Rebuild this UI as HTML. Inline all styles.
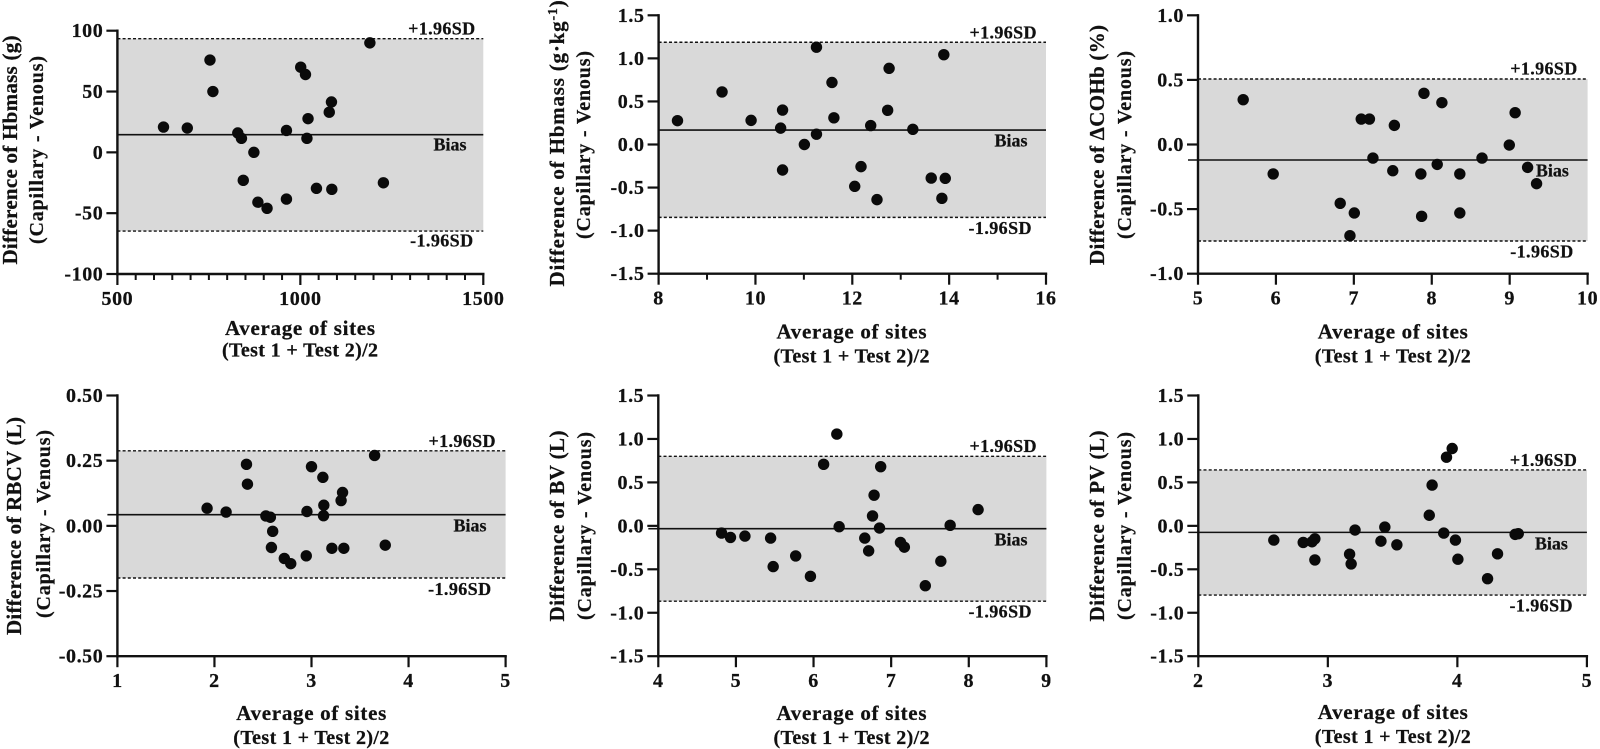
<!DOCTYPE html>
<html lang="en">
<head>
<meta charset="utf-8">
<title>Bland-Altman plots</title>
<style>
html,body{margin:0;padding:0;background:#fff;width:1600px;height:749px;overflow:hidden}
svg{display:block}
text{font-family:"Liberation Serif","DejaVu Serif",serif;font-weight:700;fill:#111;stroke:#111;stroke-width:0.25px}
</style>
</head>
<body>
<svg id="figure" xmlns="http://www.w3.org/2000/svg" width="1600" height="749" viewBox="0 0 1600 749"></svg>
<script>
// ---- Hbmass (g)
const hbmassGX = [626,691,753,761,829,839,873,844,884,909,962,962,1001,1014,1021,1018,1044,1079,1085,1086,1190,1227];
const hbmassGY = [20.8,20,75.9,50,15.9,11.5,0,-23,-41,-46,18,-38.4,70,64,27.7,11.5,-29.6,33,41.4,-30.4,90,-25];
const hbmassGLimits = [93.4,14.5,-64.7];
const hbmassGXTicks = ["500","1000","1500"];
const hbmassGYTicks = ["100","50","0","-50","-100"];
// ---- Hbmass (g/kg)
const hbmassKgX = [8.39,9.31,9.91,10.56,10.52,10.56,11.01,11.26,11.26,11.58,11.62,12.18,12.05,12.38,12.51,12.73,12.76,13.25,13.63,13.92,13.85,13.89];
const hbmassKgY = [0.277,0.61,0.28,0.40,0.19,-0.296,0,0.12,1.13,0.72,0.31,-0.257,-0.486,0.22,-0.64,0.397,0.884,0.176,-0.39,-0.393,-0.625,1.043];
const hbmassKgLimits = [1.187,0.168,-0.846];
const hbmassKgXTicks = ["8","10","12","14","16"];
const hbmassKgYTicks = ["1.5","1.0","0.5","0.0","-0.5","-1.0","-1.5"];
// ---- delta COHb (%)
const cohbX = [5.58,5.965,6.825,7.006,6.95,7.095,7.2,7.245,7.52,7.5,7.86,7.87,7.9,8.07,8.13,8.36,8.36,8.645,8.995,9.07,9.23,9.345];
const cohbY = [0.347,-0.228,-0.455,-0.53,-0.706,0.197,0.197,-0.105,0.148,-0.203,-0.228,-0.556,0.396,-0.154,0.324,-0.228,-0.53,-0.105,-0.004,0.246,-0.177,-0.303];
const cohbLimits = [0.507,-0.12,-0.747];
const cohbXTicks = ["5","6","7","8","9","10"];
const cohbYTicks = ["1.0","0.5","0.0","-0.5","-1.0"];
// ---- RBCV (L)
const rbcvX = [1.924,2.12,2.33,2.34,2.53,2.576,2.60,2.587,2.72,2.786,2.946,2.953,3.0,3.117,3.127,3.124,3.21,3.32,3.305,3.333,3.65,3.76];
const rbcvY = [0.0676,0.053,0.236,0.16,0.038,0.033,-0.021,-0.083,-0.125,-0.145,-0.115,0.055,0.227,0.186,0.079,0.039,-0.086,0.128,0.097,-0.086,0.27,-0.074];
const rbcvLimits = [0.288,0.043,-0.2];
const rbcvXTicks = ["1","2","3","4","5"];
const rbcvYTicks = ["0.50","0.25","0.00","-0.25","-0.50"];
// ---- BV (L)
const bvX = [4.815,4.93,5.116,5.447,5.48,5.77,5.96,6.13,6.30,6.33,6.66,6.71,6.76,6.78,6.85,6.865,7.12,7.17,7.44,7.64,7.76,8.12];
const bvY = [-0.083,-0.133,-0.118,-0.141,-0.469,-0.346,-0.581,0.708,1.056,-0.01,-0.141,-0.288,0.114,0.353,-0.025,0.681,-0.191,-0.245,-0.689,-0.407,0.006,0.187];
const bvLimits = [0.80,-0.033,-0.867];
const bvXTicks = ["4","5","6","7","8","9"];
const bvYTicks = ["1.5","1.0","0.5","0.0","-0.5","-1.0","-1.5"];
// ---- PV (L)
const pvX = [2.583,2.81,2.878,2.90,2.90,3.168,3.18,3.21,3.41,3.44,3.533,3.783,3.805,3.895,3.916,3.96,3.985,4.004,4.233,4.31,4.446,4.47];
const pvY = [-0.164,-0.191,-0.183,-0.149,-0.392,-0.326,-0.438,-0.048,-0.176,-0.014,-0.218,0.122,0.469,-0.083,0.79,0.89,-0.164,-0.384,-0.608,-0.322,-0.098,-0.09];
const pvLimits = [0.643,-0.075,-0.797];
const pvXTicks = ["2","3","4","5"];
const pvYTicks = ["1.5","1.0","0.5","0.0","-0.5","-1.0","-1.5"];

const SVG_NS = "http://www.w3.org/2000/svg";
const figure = document.getElementById("figure");

const panels = [
 {id:"hbmass-g", xs:hbmassGX, ys:hbmassGY, lim:hbmassGLimits, xt:hbmassGXTicks, yt:hbmassGYTicks, minor:10,
  box:[117.4,483.3,30.7,274], title:"Difference of Hbmass (g)", titleLen:229,
  ty:[17,43,150,150], xc:300, xb:[335,356.5], plus:[441.6,34.3], minus:[441.6,246.7], bias:[450,150.5], ext:0},
 {id:"hbmass-kg", xs:hbmassKgX, ys:hbmassKgY, lim:hbmassKgLimits, xt:hbmassKgXTicks, yt:hbmassKgYTicks, minor:2,
  box:[658.6,1046,15.3,273.7], title:"Difference of Hbmass (g·kg", sup:"-1", tail:")", titleLen:0,
  ty:[564,590,143,145], xc:851.5, xb:[338.5,362.5], plus:[1003,38.3], minus:[1000,234], bias:[1011,146.7], ext:0},
 {id:"cohb", xs:cohbX, ys:cohbY, lim:cohbLimits, xt:cohbXTicks, yt:cohbYTicks, minor:1,
  box:[1198,1587.6,15.3,273.7], title:"Difference of ΔCOHb (%)", titleLen:240,
  ty:[1104,1131,145,145], xc:1392.8, xb:[338.5,362.5], plus:[1543.8,74.3], minus:[1541.7,257.3], bias:[1552.4,176.7], ext:10},
 {id:"rbcv", xs:rbcvX, ys:rbcvY, lim:rbcvLimits, xt:rbcvXTicks, yt:rbcvYTicks, minor:1,
  box:[117.4,505.6,395.5,656.2], title:"Difference of RBCV (L)", titleLen:218,
  ty:[21,50,526,524], xc:311.3, xb:[720,744], plus:[462,447], minus:[459.6,594.8], bias:[470,531.7], ext:10},
 {id:"bv", xs:bvX, ys:bvY, lim:bvLimits, xt:bvXTicks, yt:bvYTicks, minor:1,
  box:[658.3,1046.4,395.5,656.2], title:"Difference of BV (L)", titleLen:191,
  ty:[564,591,526,526], xc:851.5, xb:[720,744], plus:[1003,452], minus:[1000,617.7], bias:[1011,545.5], ext:10},
 {id:"pv", xs:pvX, ys:pvY, lim:pvLimits, xt:pvXTicks, yt:pvYTicks, minor:1,
  box:[1198.3,1586.9,395.5,656.2], title:"Difference of PV (L)", titleLen:191,
  ty:[1104,1131,526,526], xc:1392.8, xb:[719,743], plus:[1543.4,466], minus:[1541,611.6], bias:[1551.4,549.5], ext:10}
];

function make(tag, attrs, parent, content) {
  const el = document.createElementNS(SVG_NS, tag);
  for (const k in attrs) el.setAttribute(k, attrs[k]);
  if (content !== undefined) el.textContent = content;
  parent.appendChild(el);
  return el;
}

panels.forEach(function (p) {
  const L = p.box[0], R = p.box[1], T = p.box[2], B = p.box[3];
  const xMin = parseFloat(p.xt[0]), xMax = parseFloat(p.xt[p.xt.length - 1]);
  const yMax = parseFloat(p.yt[0]), yMin = parseFloat(p.yt[p.yt.length - 1]);
  const sx = function (v) { return L + (v - xMin) / (xMax - xMin) * (R - L); };
  const sy = function (v) { return T + (yMax - v) / (yMax - yMin) * (B - T); };

  const g = make("g", {}, figure);
  
  

  const upper = p.lim[0], mid = p.lim[1], lower = p.lim[2];

  const band = make("rect", {x:L, y:sy(upper), width:R - L, height:sy(lower) - sy(upper), fill:"#d9d9d9"}, g);
  
  

  const upperLine = make("line", {x1:L, x2:R, y1:sy(upper), y2:sy(upper), stroke:"#111", "stroke-width":1.4, "stroke-dasharray":"3 2.2"}, g);
  
  

  const lowerLine = make("line", {x1:L, x2:R, y1:sy(lower), y2:sy(lower), stroke:"#111", "stroke-width":1.4, "stroke-dasharray":"3 2.2"}, g);
  
  

  const biasLine = make("line", {x1:L - p.ext, x2:R, y1:sy(mid), y2:sy(mid), stroke:"#111", "stroke-width":1.6}, g);
  
  

  const yAxis = make("line", {x1:L, x2:L, y1:T - 1.2, y2:B + 1.2, stroke:"#111", "stroke-width":2.4}, g);
  
  

  const xAxis = make("line", {x1:L - 1.2, x2:R + 1.2, y1:B, y2:B, stroke:"#111", "stroke-width":2.4}, g);
  
  

  p.yt.forEach(function (label) {
    const v = parseFloat(label);
    const tick = make("line", {x1:L - 11, x2:L, y1:sy(v), y2:sy(v), stroke:"#111", "stroke-width":2.2}, g);
    
    
    const t = make("text", {x:L - 14, y:sy(v) + 6.5, "text-anchor":"end", "font-size":20, "letter-spacing":0.6}, g, label);
    
    
  });

  p.xt.forEach(function (label, i) {
    const v = parseFloat(label);
    const tick = make("line", {x1:sx(v), x2:sx(v), y1:B, y2:B + 11, stroke:"#111", "stroke-width":2.2}, g);
    
    
    const t = make("text", {x:sx(v), y:B + 31, "text-anchor":"middle", "font-size":20, "letter-spacing":0.6}, g, label);
    
    
    if (i < p.xt.length - 1 && p.minor > 1) {
      const next = parseFloat(p.xt[i + 1]);
      for (let m = 1; m < p.minor; m++) {
        const mv = v + (next - v) * m / p.minor;
        const minorTick = make("line", {x1:sx(mv), x2:sx(mv), y1:B, y2:B + 6, stroke:"#111", "stroke-width":2}, g);
        
        
      }
    }
  });

  p.xs.forEach(function (xv, i) {
    const dot = make("circle", {cx:sx(xv), cy:sy(p.ys[i]), r:5.7, fill:"#0a0a0a"}, g);
    
    
  });

  const plusLabel = make("text", {x:p.plus[0], y:p.plus[1], "text-anchor":"middle", "font-size":18, textLength:67, lengthAdjust:"spacing"}, g, "+1.96SD");
  
  

  const minusLabel = make("text", {x:p.minus[0], y:p.minus[1], "text-anchor":"middle", "font-size":18, textLength:63, lengthAdjust:"spacing"}, g, "-1.96SD");
  
  

  const biasLabel = make("text", {x:p.bias[0], y:p.bias[1], "text-anchor":"middle", "font-size":18, textLength:33, lengthAdjust:"spacing"}, g, "Bias");
  
  

  const xTitle = make("text", {x:p.xc, y:p.xb[0], "text-anchor":"middle", "font-size":21, textLength:150, lengthAdjust:"spacing"}, g, "Average of sites");
  
  

  const xSub = make("text", {x:p.xc, y:p.xb[1], "text-anchor":"middle", "font-size":20, textLength:156, lengthAdjust:"spacing"}, g, "(Test 1 + Test 2)/2");
  
  

  const yAttrs = {transform:"translate(" + p.ty[0] + "," + p.ty[2] + ") rotate(-90)", "text-anchor":"middle", "font-size":21};
  if (p.titleLen) { yAttrs.textLength = p.titleLen; yAttrs.lengthAdjust = "spacing"; }
  const yTitle = make("text", yAttrs, g, p.title);
  
  
  if (p.sup) {
    yTitle.setAttribute("letter-spacing", "0.8");
    const sup = make("tspan", {dy:-7, "font-size":14}, yTitle, p.sup);
    
    
    const tail = make("tspan", {dy:7}, yTitle, p.tail);
    
    
  }

  const ySub = make("text", {transform:"translate(" + p.ty[1] + "," + p.ty[3] + ") rotate(-90)", "text-anchor":"middle", "font-size":20, textLength:188, lengthAdjust:"spacing"}, g, "(Capillary - Venous)");
  
  
});
</script>
</body>
</html>
